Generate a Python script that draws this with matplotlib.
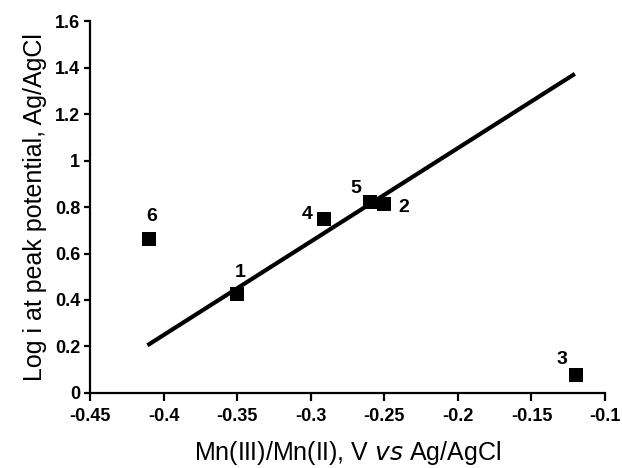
import numpy as np
import matplotlib
matplotlib.use("Agg")
import matplotlib.pyplot as plt

plt.rcParams['font.family'] = ['Liberation Sans', 'DejaVu Sans']

# data
labels = ["1", "2", "3", "4", "5", "6"]
x_pot = [-0.350, -0.250, -0.120, -0.291, -0.260, -0.410]
log_i = [0.424, 0.811, 0.079, 0.750, 0.822, 0.664]
# label offsets (points)
lab_dx = [2, 14, -10, -12, -10, 2]
lab_dy = [16, -2, 11, 3, 10, 16]

fit_x = [-0.411, -0.1205]
fit_y = [0.205, 1.373]

fig = plt.figure(figsize=(6.22, 4.68), dpi=100)
ax = fig.add_axes([0.1447, 0.1603, 0.828, 0.7947])

ax.plot(fit_x, fit_y, color="black", lw=3, solid_capstyle="butt")
ax.plot(x_pot, log_i, "s", color="black", ms=9.5, mew=0)

for t, xx, yy, dx, dy in zip(labels, x_pot, log_i, lab_dx, lab_dy):
    ax.annotate(t, (xx, yy), xytext=(dx, dy), textcoords="offset points",
                ha="center", va="center", fontsize=14, fontweight="bold")

ax.set_xlim(-0.45, -0.1)
ax.set_ylim(0, 1.6)
ax.set_xticks([-0.45, -0.4, -0.35, -0.3, -0.25, -0.2, -0.15, -0.1])
ax.set_xticklabels(["-0.45", "-0.4", "-0.35", "-0.3", "-0.25", "-0.2", "-0.15", "-0.1"])
ax.set_yticks([0, 0.2, 0.4, 0.6, 0.8, 1.0, 1.2, 1.4, 1.6])
ax.set_yticklabels(["0", "0.2", "0.4", "0.6", "0.8", "1", "1.2", "1.4", "1.6"])

for s in ["top", "right"]:
    ax.spines[s].set_visible(False)
for s in ["left", "bottom"]:
    ax.spines[s].set_linewidth(1.6)
ax.tick_params(axis="x", direction="out", width=1.6, length=6, labelsize=13, pad=5)
ax.tick_params(axis="y", direction="out", width=1.6, length=4, labelsize=13, pad=3)
for lab in ax.get_xticklabels() + ax.get_yticklabels():
    lab.set_fontweight("bold")

ax.set_xlabel(r"Mn(III)/Mn(II), V $\it{vs}$ Ag/AgCl", fontsize=18, labelpad=10)
ax.set_ylabel("Log i at peak potential, Ag/AgCl", fontsize=18, labelpad=6)

fig.savefig("out.png", dpi=100)
